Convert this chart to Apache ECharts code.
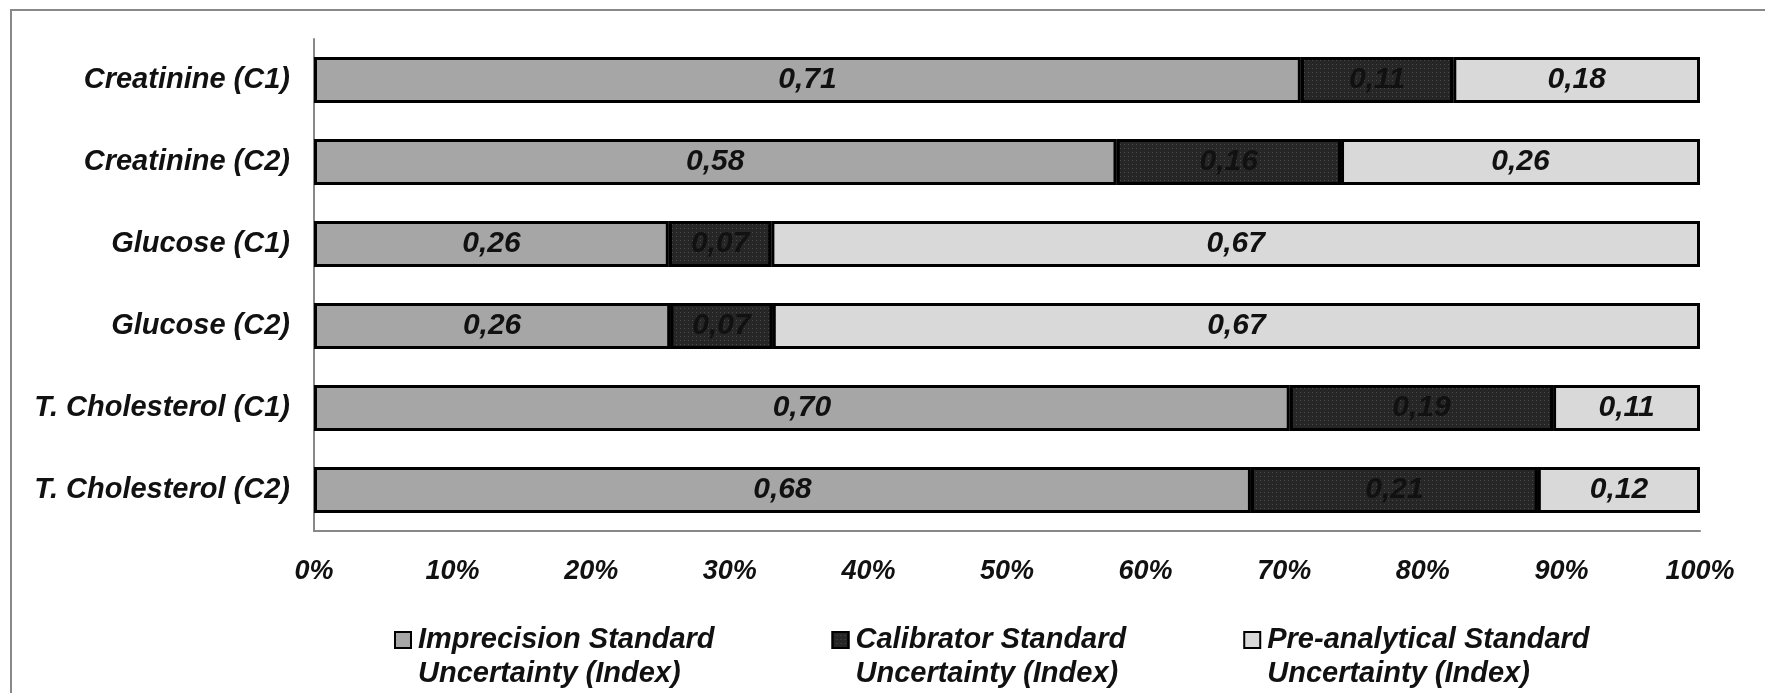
<!DOCTYPE html>
<html>
<head>
<meta charset="utf-8">
<script src="https://cdn.jsdelivr.net/npm/echarts@6/dist/echarts.min.js"></script>
<style>
html,body{margin:0;padding:0;background:#fff;}
#chart{width:1765px;height:693px;}
</style>
</head>
<body>
<div id="chart"></div>
<script>
const categories = ['Creatinine (C1)', 'Creatinine (C2)', 'Glucose (C1)', 'Glucose (C2)', 'T. Cholesterol (C1)', 'T. Cholesterol (C2)'];
const seriesNames = ['Imprecision Standard\nUncertainty (Index)', 'Calibrator Standard\nUncertainty (Index)', 'Pre-analytical Standard\nUncertainty (Index)'];
const imprecision = [0.712, 0.579, 0.256, 0.257, 0.704, 0.676];
const calibrator = [0.110, 0.162, 0.074, 0.074, 0.190, 0.207];
const preanalytical = [0.178, 0.259, 0.670, 0.669, 0.106, 0.117];
const xTicks = [0, 0.1, 0.2, 0.3, 0.4, 0.5, 0.6, 0.7, 0.8, 0.9, 1.0];

const FONT = '"Liberation Sans", Arial, sans-serif';
const colors = ['#a6a6a6', '#262626', '#d9d9d9'];
const values = [imprecision, calibrator, preanalytical];

const chart = echarts.init(document.getElementById('chart'), null, {renderer: 'canvas'});

function iconPath() {
  // square on first text line; dangling move-to points extend the icon box to the full item height
  return 'path://M0,0 M0,9H16V25H0Z M0,68';
}

const series = seriesNames.map((name, i) => {
  const itemStyle = {color: colors[i], borderColor: '#000', borderWidth: 3};
  if (i === 1) {
    itemStyle.decal = {
      symbol: 'rect', symbolSize: 1, color: 'rgba(120,120,120,0.45)',
      dashArrayX: [1, 3], dashArrayY: [1, 3], rotation: 0
    };
  }
  return {
    name: name,
    type: 'bar',
    stack: 'total',
    barWidth: 46,
    data: values[i],
    itemStyle: itemStyle,
    label: {
      show: true,
      position: 'inside',
      formatter: p => p.value.toFixed(2).replace('.', ','),
      color: '#111',
      fontFamily: FONT,
      fontWeight: 'bold',
      fontStyle: 'italic',
      fontSize: 30
    },
    emphasis: {disabled: true}
  };
});

chart.setOption({
  animation: false,
  backgroundColor: '#fff',
  graphic: [{
    type: 'rect',
    shape: {x: 11, y: 10, width: 1800, height: 800},
    style: {fill: 'none', stroke: '#888', lineWidth: 2},
    silent: true
  }],
  grid: {left: 314, right: 65, top: 39, bottom: 162, containLabel: false},
  xAxis: {
    type: 'value',
    min: 0,
    max: 1,
    interval: 0.1,
    axisLine: {show: true, lineStyle: {color: '#888', width: 2}},
    axisTick: {show: false},
    splitLine: {show: false},
    axisLabel: {
      margin: 27,
      color: '#111',
      fontFamily: FONT,
      fontWeight: 'bold',
      fontStyle: 'italic',
      fontSize: 27,
      formatter: v => {
        const t = xTicks.find(x => Math.abs(x - v) < 1e-9);
        return Math.round((t === undefined ? v : t) * 100) + '%';
      }
    }
  },
  yAxis: {
    type: 'category',
    data: categories,
    inverse: true,
    axisLine: {show: true, lineStyle: {color: '#888', width: 2}},
    axisTick: {show: false},
    axisLabel: {
      margin: 24,
      color: '#111',
      fontFamily: FONT,
      fontWeight: 'bold',
      fontStyle: 'italic',
      fontSize: 29
    }
  },
  legend: {
    left: 389,
    top: 617,
    orient: 'horizontal',
    itemWidth: 16,
    itemHeight: 68,
    itemGap: 117,
    icon: iconPath(),
    selectedMode: false,
    itemStyle: {borderColor: '#000', borderWidth: 2},
    textStyle: {
      color: '#111',
      fontFamily: FONT,
      fontWeight: 'bold',
      fontStyle: 'italic',
      fontSize: 29,
      lineHeight: 34,
      padding: [0, 0, 0, 2]
    },
    data: seriesNames
  },
  series: series
});
</script>
</body>
</html>
